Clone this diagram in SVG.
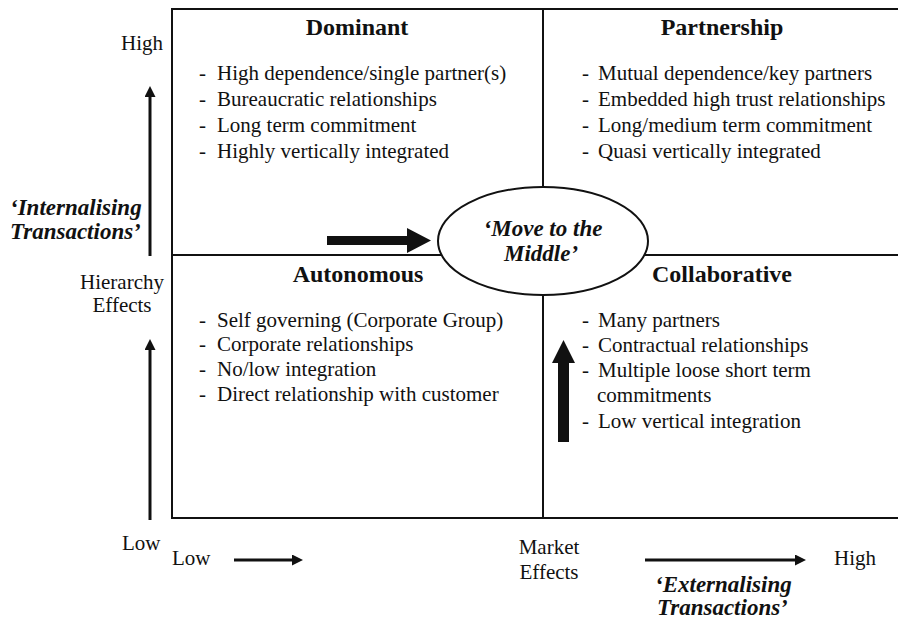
<svg xmlns="http://www.w3.org/2000/svg" width="898" height="623" viewBox="0 0 898 623">
<defs>
<style>
.t{font-family:"Liberation Serif","Times New Roman",serif;fill:#111;}
.body{font-size:21px;}
.title{font-size:24px;font-weight:bold;text-anchor:middle;}
.em{font-size:23px;font-weight:bold;font-style:italic;}
.ax{font-size:21px;}
.frame{fill:none;stroke:#111;stroke-width:2;}
.axis{stroke:#111;stroke-width:3;fill:none;}
.thick{fill:#111;stroke:none;}
</style>
<marker id="ah" viewBox="0 0 12 12" refX="0" refY="6" markerWidth="13" markerHeight="11" markerUnits="userSpaceOnUse" orient="auto">
<path d="M0,0 L12,6 L0,12 z" fill="#111"/>
</marker>
</defs>
<rect width="898" height="623" fill="#fff"/>

<g id="frame">
<rect class="frame" x="172" y="9" width="740" height="509"/>
<line class="frame" x1="172" y1="255" x2="898" y2="255"/>
<line class="frame" x1="543" y1="9" x2="543" y2="518"/>
</g>

<g id="dominant">
<text class="t title" x="357" y="35">Dominant</text>
<text class="t body" y="80"><tspan x="199">-</tspan><tspan x="217">High dependence/single partner(s)</tspan></text>
<text class="t body" y="106"><tspan x="199">-</tspan><tspan x="217">Bureaucratic relationships</tspan></text>
<text class="t body" y="132"><tspan x="199">-</tspan><tspan x="217">Long term commitment</tspan></text>
<text class="t body" y="158"><tspan x="199">-</tspan><tspan x="217">Highly vertically integrated</tspan></text>
</g>

<g id="partnership">
<text class="t title" x="722" y="35">Partnership</text>
<text class="t body" y="80"><tspan x="582">-</tspan><tspan x="598">Mutual dependence/key partners</tspan></text>
<text class="t body" y="106"><tspan x="582">-</tspan><tspan x="598">Embedded high trust relationships</tspan></text>
<text class="t body" y="132"><tspan x="582">-</tspan><tspan x="598">Long/medium term commitment</tspan></text>
<text class="t body" y="158"><tspan x="582">-</tspan><tspan x="598">Quasi vertically integrated</tspan></text>
</g>

<g id="autonomous">
<text class="t title" x="358" y="282">Autonomous</text>
<text class="t body" y="327"><tspan x="199">-</tspan><tspan x="217">Self governing (Corporate Group)</tspan></text>
<text class="t body" y="351"><tspan x="199">-</tspan><tspan x="217">Corporate relationships</tspan></text>
<text class="t body" y="376"><tspan x="199">-</tspan><tspan x="217">No/low integration</tspan></text>
<text class="t body" y="401"><tspan x="199">-</tspan><tspan x="217">Direct relationship with customer</tspan></text>
</g>

<g id="collaborative">
<text class="t title" x="722" y="282">Collaborative</text>
<text class="t body" y="327"><tspan x="582">-</tspan><tspan x="598">Many partners</tspan></text>
<text class="t body" y="352"><tspan x="582">-</tspan><tspan x="598">Contractual relationships</tspan></text>
<text class="t body" y="377"><tspan x="582">-</tspan><tspan x="598">Multiple loose short term</tspan></text>
<text class="t body" x="597" y="402">commitments</text>
<text class="t body" y="428"><tspan x="582">-</tspan><tspan x="598">Low vertical integration</tspan></text>
</g>

<g id="middle">
<ellipse cx="543" cy="241" rx="105" ry="54" fill="#fff" stroke="#111" stroke-width="2"/>
<text class="t em" x="543" y="236" text-anchor="middle">‘Move to the</text>
<text class="t em" x="541" y="261" text-anchor="middle">Middle’</text>
</g>

<g id="hierarchy-axis">
<text class="t ax" x="163" y="50" text-anchor="end">High</text>
<text class="t em" x="10" y="215">‘Internalising</text>
<text class="t em" x="10" y="239">Transactions’</text>
<text class="t ax" x="122" y="289" text-anchor="middle">Hierarchy</text>
<text class="t ax" x="122" y="312" text-anchor="middle">Effects</text>
<text class="t ax" x="122" y="550">Low</text>
</g>

<g id="market-axis">
<text class="t ax" x="172" y="565">Low</text>
<text class="t ax" x="549" y="554" text-anchor="middle">Market</text>
<text class="t ax" x="549" y="579" text-anchor="middle">Effects</text>
<text class="t ax" x="834" y="565">High</text>
<text class="t em" x="655" y="592">‘Externalising</text>
<text class="t em" x="657" y="615">Transactions’</text>
</g>

<g id="connectors">
<line class="axis" x1="150" y1="256" x2="150" y2="97" marker-end="url(#ah)"/>
<line class="axis" x1="150" y1="520" x2="150" y2="350" marker-end="url(#ah)"/>
<line class="axis" x1="234" y1="560" x2="292" y2="560" marker-end="url(#ah)"/>
<line class="axis" x1="645" y1="560" x2="795" y2="560" marker-end="url(#ah)"/>
<polygon class="thick" points="327,236 407,236 407,228 431,240.5 407,253 407,245 327,245"/>
<polygon class="thick" points="558,442 558,363 552,363 563.5,340 575,363 569,363 569,442"/>
</g>
</svg>
